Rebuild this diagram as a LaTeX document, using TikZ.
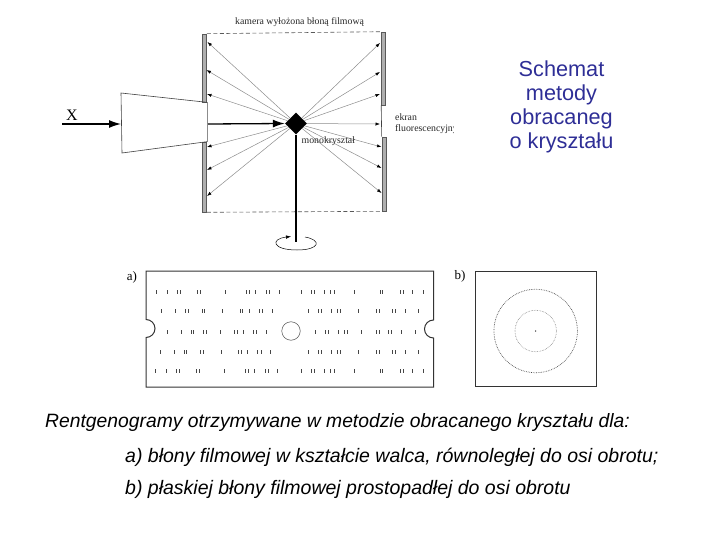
\documentclass[tikz,border=0pt]{standalone}
\usepackage{xcolor}
\usepackage{fontspec}
\setmainfont{Liberation Serif}
\setsansfont{Liberation Sans}
\usetikzlibrary{arrows.meta,positioning,shapes.geometric}
\definecolor{titleblue}{RGB}{46,46,150}
\definecolor{platefill}{RGB}{175,175,175}
\definecolor{rayline}{RGB}{140,140,140}
\definecolor{spotgray}{RGB}{70,70,70}
\tikzset{
  plate/.style={draw=black!65, fill=platefill, line width=0.6pt, minimum width=4pt, inner sep=0pt},
  ray/.style={-{Latex[length=4.5pt,width=3.2pt,color=black]}, draw=rayline, line width=0.5pt},
  beam/.style={-{Latex[length=12pt,width=8pt]}, line width=1.3pt},
  camedge/.style={dash pattern=on 4pt off 2.5pt, draw=black!65, line width=0.6pt},
  conedge/.style={draw=black!75, line width=0.6pt},
  filmedge/.style={draw=black!80, line width=1pt},
  caption/.style={font=\fontsize{9.8}{11}\selectfont, inner sep=0pt, anchor=west, text=black!85},
  slidetitle/.style={font=\sffamily\fontsize{21.7}{24}\selectfont, text=titleblue, align=center, inner sep=0pt},
  slidetext/.style={font=\sffamily\itshape\fontsize{19.5}{22}\selectfont, inner sep=0pt, anchor=west}
}
\begin{document}
\begin{tikzpicture}[x=1pt,y=-1pt]
\useasboundingbox (0,0) rectangle (720,540);

% camera
\node[plate, minimum height=68pt] (leftup) at (204.5,68) {};
\node[plate, minimum height=70pt] (leftdown) at (204.5,177) {};
\node[plate, minimum height=73pt] (rightup) at (383.5,68.5) {};
\node[plate, minimum height=74pt] (rightdown) at (384,174) {};
\draw[camedge] (leftup.north east) -- (rightup.north west);
\draw[camedge] (leftdown.south east) -- (rightdown.south west);
\draw[conedge] (rightup.south west) -- (rightdown.north west);
\draw[draw=black!45, line width=0.5pt] (leftup.south east) -- (leftdown.north east);

% collimator
\coordinate (coneA) at (121,93);
\coordinate (coneB) at (122,153);
\draw[conedge] (leftup.south east) -- (coneA) -- (coneB) -- (leftdown.north east);
\coordinate (xstart) at (62,124);
\coordinate (conein) at (121,124);
\draw[beam] (xstart) -- (conein);
\node[font=\fontsize{16}{18}\selectfont, inner sep=0pt] (xlabel) at (72,115) {X};

% crystal and rays
\node[diamond, fill=black, inner sep=0pt, minimum width=22pt, minimum height=22pt] (crystal) at (296,123.5) {};
\coordinate (beamin) at (208,124);
\draw[beam] (beamin) -- (crystal.west);
\foreach \px/\py [count=\i] in {207.5/42,206.5/70,207/94,207/147,207/170,207/196,
    380/43,380/72,380/94,380/124,381.5/147,381.5/168,381.5/193}{
  \coordinate (hit\i) at (\px,\py);
  \draw[ray] (crystal) -- (hit\i);
}

% rod
\coordinate (rodend) at (296,242);
\draw[line width=1.8pt] (crystal.south) -- (rodend);
\coordinate (spinstart) at (305,237);
\coordinate (spinend) at (291,236.5);
\draw[-{Latex[length=5pt,width=3.5pt]}, line width=0.5pt] (spinstart) .. controls (322,240) and (320,250) .. (297,250)
  .. controls (272,250) and (270,239) .. (spinend);

% labels
\node[caption] (camlabel) at (235,22.5) {kamera wyłożona błoną filmową};
\node[caption] (crystlabel) at (301.5,141.5) {monokryształ};
\node[caption] (ekran) at (395,117.5) {ekran};
\begin{scope}
\clip (390,120) rectangle (453,138);
\node[caption] (fluor) at (395,129.5) {fluorescencyjny};
\end{scope}

\node[slidetitle] (title) at (561.5,107) {Schemat\\metody\\obracaneg\\o kryształu};

% film a)
\node[font=\fontsize{13}{15}\selectfont, inner sep=0pt] (labela) at (132,277.5) {a)};
\draw[filmedge] (146,319.5) arc (-90:90:9) -- (146,387) -- (433.5,387) -- (433.5,338)
  arc (90:270:9) -- (433.5,271) -- (146,271) -- cycle;
\node[circle, draw=black!70, line width=0.5pt, minimum size=18.5pt, inner sep=0pt] (hole) at (291,331) {};
\foreach \sy/\sxs in {
  292/{156.7,167,177,180,197.3,200,225.3,246.7,249.3,255.7,266.7,269.3,279,301.3,311.3,314,324,330.7,334,354.3,380,382.7,400,403.3,412.7,423.3},
  311/{161.3,175,185.3,188,202,204.7,222.7,240,242.7,249,259.3,262.7,272.3,308.7,318.7,321.3,331.7,337.3,340.7,358.3,376,379,392.7,395.3,405.3,418.7},
  332/{167,181,191,193.7,203.3,206.7,220.3,234,237.3,243.7,253.3,256.7,266.7,315.7,325.3,328.7,338.3,344,347.3,361.7,376,379.3,388.7,391.3,401.7,415.7},
  352/{160,174,184,186.7,200.7,203.3,221,238.3,241.7,247.7,257.7,261,270.7,308.7,318.7,321.3,331.7,337.3,340.7,358.3,376,379,392.7,395.3,405.3,418.7},
  371/{155.7,166,176.7,179.3,196.7,199.3,224.7,245.7,248.7,254.7,265,268,277.7,301.3,311.3,314,324,330.7,334,354.3,380,382.7,400,403.3,412.7,423.3}}{
  \foreach \sx in \sxs {
    \draw[spotgray, line width=1pt] (\sx,\sy-1.8) -- (\sx,\sy+1.8);
  }
}

% film b)
\node[font=\fontsize{13}{15}\selectfont, inner sep=0pt] (labelb) at (460,276.5) {b)};
\node[draw=black!80, line width=1pt, minimum width=121pt, minimum height=115pt, inner sep=0pt] (filmb) at (535.5,329) {};
\node[circle, draw=black!70, densely dotted, line width=0.7pt, minimum size=83.5pt, inner sep=0pt] (ringout) at (535.7,331) {};
\node[circle, draw=black!50, densely dotted, line width=0.6pt, minimum size=41.5pt, inner sep=0pt] (ringin) at (535.7,331) {};
\node[circle, fill=black!80, minimum size=1.5pt, inner sep=0pt] (spotb) at (535.7,331) {};

% slide text
\node[slidetext, font=\sffamily\itshape\fontsize{19.3}{22}\selectfont] (line1) at (45,423) {Rentgenogramy otrzymywane w metodzie obracanego kryształu dla:};
\node[slidetext] (line2) at (125,457) {a) błony filmowej w kształcie walca, równoległej do osi obrotu;};
\node[slidetext] (line3) at (125,489.5) {b) płaskiej błony filmowej prostopadłej do osi obrotu};
\end{tikzpicture}
\end{document}
